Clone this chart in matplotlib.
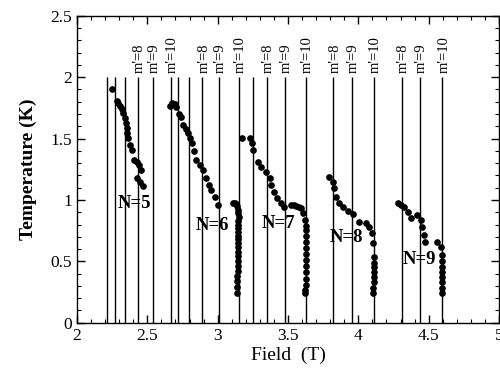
import matplotlib
matplotlib.use("Agg")
import matplotlib.pyplot as plt
from matplotlib.ticker import MultipleLocator

plt.rcParams["font.family"] = ["Liberation Serif", "DejaVu Serif"]
plt.rcParams["mathtext.fontset"] = "stix"

# level-crossing fields (T)
line_fields = [2.215, 2.270, 2.343, 2.433, 2.541, 2.667, 2.721, 2.794, 2.891,
               3.007, 3.149, 3.250, 3.350, 3.480, 3.629, 3.823, 3.952, 4.113,
               4.310, 4.438, 4.598]
label_fields = [2.433, 2.541, 2.667, 2.891, 3.007, 3.149, 3.350, 3.480, 3.629,
                3.823, 3.952, 4.113, 4.310, 4.438, 4.598]
label_texts = ["m'=8", "m'=9", "m'=10"] * 5

# measured points, one pair of lists per Landau level
n5_field = [2.250, 2.286, 2.293, 2.305, 2.317, 2.328, 2.338, 2.347, 2.352,
            2.359, 2.366, 2.376, 2.390, 2.406, 2.423, 2.442, 2.454, 2.428,
            2.447, 2.468]
n5_temp = [1.907, 1.810, 1.790, 1.766, 1.739, 1.707, 1.666, 1.625, 1.584,
           1.544, 1.503, 1.448, 1.407, 1.326, 1.312, 1.285, 1.245, 1.177,
           1.149, 1.114]

n6_field = [2.660, 2.678, 2.695, 2.702, 2.726, 2.736, 2.754, 2.773, 2.790,
            2.806, 2.817, 2.830, 2.849, 2.872, 2.896, 2.920, 2.938, 2.955,
            2.979, 3.002,
            3.109, 3.125, 3.133, 3.140, 3.145, 3.148, 3.149, 3.148, 3.147,
            3.146, 3.146, 3.145, 3.145, 3.144, 3.144, 3.143, 3.143, 3.142,
            3.142, 3.141, 3.140, 3.139, 3.138, 3.137]
n6_temp = [1.765, 1.793, 1.782, 1.761, 1.700, 1.674, 1.611, 1.576, 1.544,
           1.503, 1.462, 1.402, 1.326, 1.285, 1.245, 1.177, 1.122, 1.082,
           1.027, 0.959,
           0.978, 0.975, 0.970, 0.950, 0.920, 0.890, 0.860, 0.830, 0.800,
           0.770, 0.740, 0.710, 0.680, 0.650, 0.620, 0.580, 0.540, 0.500,
           0.460, 0.420, 0.380, 0.340, 0.290, 0.240]

n7_field = [3.175, 3.227, 3.246, 3.250, 3.286, 3.310, 3.345, 3.369, 3.380,
            3.397, 3.420, 3.452, 3.475,
            3.523, 3.540, 3.558, 3.580, 3.594, 3.610, 3.622, 3.627, 3.629,
            3.629, 3.628, 3.628, 3.627, 3.627, 3.626, 3.626, 3.625, 3.625,
            3.624, 3.624]
n7_temp = [1.503, 1.503, 1.467, 1.407, 1.312, 1.271, 1.231, 1.177, 1.122,
           1.068, 1.014, 0.973, 0.940,
           0.959, 0.960, 0.951, 0.945, 0.932, 0.892, 0.837, 0.790, 0.755,
           0.710, 0.660, 0.610, 0.560, 0.510, 0.460, 0.410, 0.360, 0.310,
           0.270, 0.240]

n8_field = [3.789, 3.818, 3.830, 3.842, 3.865, 3.889, 3.924, 3.960, 4.007,
            4.055, 4.078, 4.097, 4.106, 4.113, 4.112, 4.111, 4.110, 4.109,
            4.108, 4.107, 4.106]
n8_temp = [1.185, 1.149, 1.095, 1.027, 0.973, 0.945, 0.913, 0.886, 0.823,
           0.810, 0.782, 0.728, 0.647, 0.538, 0.490, 0.450, 0.410, 0.370,
           0.330, 0.280, 0.240]

n9_field = [4.279, 4.303, 4.326, 4.350, 4.374, 4.420, 4.445, 4.456, 4.468,
            4.475, 4.562, 4.586, 4.598, 4.598, 4.597, 4.596, 4.595, 4.595,
            4.594, 4.594]
n9_temp = [0.978, 0.959, 0.945, 0.905, 0.851, 0.878, 0.837, 0.782, 0.715,
           0.660, 0.660, 0.620, 0.552, 0.500, 0.450, 0.410, 0.370, 0.330,
           0.280, 0.240]

level_names = ["N=5", "N=6", "N=7", "N=8", "N=9"]
level_label_x = [2.405, 2.960, 3.430, 3.918, 4.433]
level_label_y = [0.975, 0.796, 0.810, 0.696, 0.511]

fig = plt.figure(figsize=(5.0, 3.77), dpi=100)
ax = fig.add_axes([0.154, 0.144, 0.844, 0.814])

ax.vlines(line_fields, 0, 2.0, color="black", lw=1.0)
for f, t in zip(label_fields, label_texts):
    ax.text(f + 0.01, 2.035, t, rotation=90, ha="center", va="bottom",
            fontsize=10.5)

for fx, ty in [(n5_field, n5_temp), (n6_field, n6_temp), (n7_field, n7_temp),
               (n8_field, n8_temp), (n9_field, n9_temp)]:
    ax.plot(fx, ty, "o", color="black", ms=3.8, mec="black")

for name, x, y in zip(level_names, level_label_x, level_label_y):
    ax.text(x, y, name, ha="center", va="center", fontsize=13.5,
            fontweight="bold")

ax.set_xlim(2, 5)
ax.set_ylim(0, 2.5)
ax.xaxis.set_major_locator(MultipleLocator(0.5))
ax.xaxis.set_minor_locator(MultipleLocator(0.1))
ax.yaxis.set_major_locator(MultipleLocator(0.5))
ax.yaxis.set_minor_locator(MultipleLocator(0.1))
ax.set_xticks([2, 2.5, 3, 3.5, 4, 4.5, 5], ["2", "2.5", "3", "3.5", "4", "4.5", "5"])
ax.set_yticks([0, 0.5, 1, 1.5, 2, 2.5], ["0", "0.5", "1", "1.5", "2", "2.5"])
ax.tick_params(which="both", direction="in", top=True, right=True,
               labelsize=12.5)
ax.tick_params(which="major", length=6, width=1)
ax.tick_params(which="minor", length=3, width=0.8)
for s in ax.spines.values():
    s.set_linewidth(1.0)

ax.set_xlabel("Field  (T)", fontsize=14, labelpad=2)
ax.set_ylabel("Temperature (K)", fontsize=14, fontweight="bold", labelpad=10)

fig.savefig("out.png", dpi=100)
